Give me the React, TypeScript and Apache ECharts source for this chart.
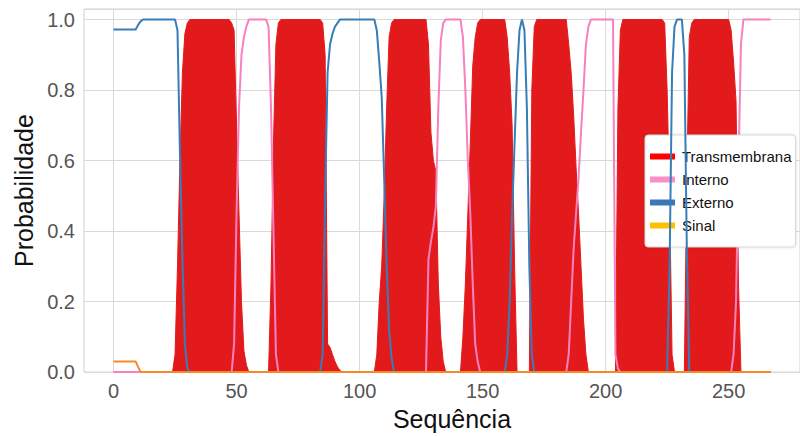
import React, { useEffect, useRef } from "react";
import * as echarts from "echarts";

const xTicks = [0, 50, 100, 150, 200, 250];
const yTicks = [0, 0.2, 0.4, 0.6, 0.8, 1.0];
const Y_MAX = 1.03;

const transmembrana: [number, number][] = [
  [0, 0], [24, 0], [25, 0.05], [26, 0.3], [27, 0.6], [28, 0.85], [29, 0.96], [30, 0.99], [31, 1], [47, 1],
  [48, 0.99], [49, 0.97], [50, 0.7], [51, 0.45], [52, 0.2], [53, 0.06], [54, 0.02], [55, 0],
  [63, 0], [64, 0.25], [65, 0.65], [66, 0.93], [67, 0.99], [68, 1], [84, 1], [85, 0.99], [86, 0.9], [87, 0.08],
  [88, 0.07], [89, 0.05], [90, 0.03], [91, 0.015], [92, 0.005], [93, 0],
  [106, 0], [107, 0.05], [108, 0.2], [109, 0.3], [110, 0.5], [111, 0.75], [112, 0.95], [113, 0.99], [114, 1], [127, 1],
  [128, 0.93], [129, 0.68], [130, 0.6], [131, 0.57], [132, 0.25], [133, 0.1], [134, 0.03], [135, 0],
  [141, 0], [142, 0.1], [143, 0.25], [144, 0.45], [145, 0.65], [146, 0.87], [147, 0.95], [148, 0.99], [149, 1], [159, 1],
  [160, 0.95], [161, 0.85], [162, 0.7], [163, 0.3], [164, 0],
  [169, 0], [170, 0.8], [171, 0.98], [172, 1], [184, 1], [185, 0.93], [186, 0.85], [187, 0.73], [188, 0.58],
  [189, 0.45], [190, 0.3], [191, 0.15], [192, 0.05], [193, 0],
  [204, 0], [205, 0.75], [206, 0.97], [207, 1], [223, 1], [224, 0.99], [225, 0.8], [226, 0.5], [227, 0.05], [228, 0],
  [232, 0], [233, 0.55], [234, 0.95], [235, 0.99], [236, 1], [250, 1], [251, 0.97], [252, 0.88], [253, 0.77],
  [254, 0.25], [255, 0], [267, 0],
];

const interno: [number, number][] = [
  [0, 0], [48, 0], [49, 0.08], [50, 0.45], [51, 0.75], [52, 0.9], [53, 0.95], [54, 0.98], [55, 1], [62, 1],
  [63, 0.98], [64, 0.75], [65, 0.4], [66, 0.05], [67, 0],
  [127, 0], [128, 0.32], [129, 0.37], [130, 0.41], [131, 0.47], [132, 0.75], [133, 0.94], [134, 0.99], [135, 1], [141, 1],
  [142, 0.95], [143, 0.8], [144, 0.6], [145, 0.45], [146, 0.25], [147, 0.08], [148, 0.03], [149, 0],
  [184, 0], [185, 0.05], [186, 0.2], [187, 0.35], [188, 0.45], [189, 0.55], [190, 0.68], [191, 0.8], [192, 0.93],
  [193, 0.98], [194, 1], [203, 1], [204, 0.05], [205, 0.01], [206, 0],
  [251, 0], [252, 0.05], [253, 0.2], [254, 0.58], [255, 0.93], [256, 1], [267, 1],
];

const externo: [number, number][] = [
  [0, 0.972], [9, 0.972], [10, 0.985], [11, 0.995], [12, 1], [25, 1], [26, 0.97], [27, 0.62], [28, 0.32],
  [29, 0.08], [30, 0.01], [31, 0],
  [84, 0], [85, 0.05], [86, 0.5], [87, 0.85], [88, 0.93], [89, 0.96], [90, 0.98], [91, 0.99], [92, 1],
  [106, 1], [107, 0.97], [108, 0.88], [109, 0.78], [110, 0.55], [111, 0.3], [112, 0.12], [113, 0.04], [114, 0],
  [159, 0], [160, 0.05], [161, 0.2], [162, 0.45], [163, 0.65], [164, 0.85], [165, 0.97], [166, 1], [167, 0.97],
  [168, 0.75], [169, 0.3], [170, 0.05], [171, 0],
  [225, 0], [226, 0.3], [227, 0.85], [228, 0.98], [229, 1], [231, 1], [232, 0.9], [233, 0.35], [234, 0], [267, 0],
];

const sinal: [number, number][] = [
  [0, 0.03], [9, 0.03], [10, 0.015], [11, 0], [267, 0],
];

const FONT = "'Liberation Sans', Arial, sans-serif";
const GRID_COLOR = "#d9d9d9";

export default function App() {
  const ref = useRef<HTMLDivElement>(null);
  useEffect(() => {
    if (!ref.current) return;
    const chart = echarts.init(ref.current, null, { renderer: "svg" });
    chart.setOption({
      animation: false,
      backgroundColor: "#fff",
      grid: {
        left: 84,
        right: 0,
        top: 9,
        bottom: 62,
        show: true,
        borderColor: "#d0d0d0",
        borderWidth: 1,
      },
      legend: {
        orient: "vertical",
        left: 645,
        top: 135,
        icon: "rect",
        itemWidth: 25,
        itemHeight: 6,
        itemGap: 8,
        padding: [14, 4, 14, 5],
        backgroundColor: "#fff",
        borderColor: "#d8d8d8",
        borderWidth: 1,
        borderRadius: 3,
        shadowBlur: 3,
        shadowColor: "rgba(0,0,0,0.15)",
        textStyle: { fontFamily: FONT, fontSize: 15, color: "#111", padding: [0, 0, 2, 2] },
        data: [
          { name: "Transmembrana", itemStyle: { color: "#ff0000" } },
          { name: "Interno", itemStyle: { color: "#f78fc8" } },
          { name: "Externo", itemStyle: { color: "#3a78b8" } },
          { name: "Sinal", itemStyle: { color: "#ffc000" } },
        ],
      },
      xAxis: {
        type: "value",
        min: -12,
        max: 279,
        axisLine: { show: false },
        axisTick: { show: false },
        splitLine: { show: false },
        axisLabel: {
          customValues: xTicks,
          color: "#555",
          fontSize: 20,
          fontFamily: FONT,
          margin: 9,
        },
        name: "Sequência",
        nameLocation: "middle",
        nameGap: 31,
        nameTextStyle: { fontFamily: FONT, fontSize: 25, color: "#111", padding: [0, 0, 0, 20] },
      },
      yAxis: {
        type: "value",
        min: 0,
        max: Y_MAX,
        interval: 0.2,
        axisLine: { show: false },
        axisTick: { show: false },
        splitLine: { lineStyle: { color: GRID_COLOR, width: 1 } },
        axisLabel: {
          color: "#555",
          fontSize: 20,
          fontFamily: FONT,
          margin: 9,
          formatter: (v: number) =>
            yTicks.some((t) => Math.abs(t - v) < 1e-6) ? v.toFixed(1) : "",
        },
        name: "Probabilidade",
        nameLocation: "middle",
        nameRotate: 90,
        nameGap: 42,
        nameTextStyle: { fontFamily: FONT, fontSize: 25, color: "#111" },
      },
      series: [
        {
          name: "_grid",
          type: "custom",
          silent: true,
          z: 1,
          data: xTicks.map((v) => [v]),
          encode: { x: 0 },
          renderItem: (_params: any, api: any) => {
            const x = api.value(0);
            const p0 = api.coord([x, 0]);
            const p1 = api.coord([x, Y_MAX]);
            return {
              type: "line",
              shape: { x1: p0[0], y1: p0[1], x2: p1[0], y2: p1[1] },
              style: { stroke: GRID_COLOR, lineWidth: 1 },
            };
          },
        },
        {
          name: "Transmembrana",
          type: "line",
          data: transmembrana,
          showSymbol: false,
          itemStyle: { color: "#ff0000" },
          lineStyle: { color: "#e31a1c", width: 1 },
          areaStyle: { color: "#e31a1c", opacity: 1 },
          z: 2,
        },
        {
          name: "Interno",
          type: "line",
          data: interno,
          showSymbol: false,
          itemStyle: { color: "#f781bf" },
          lineStyle: { color: "#f781bf", width: 2 },
          z: 3,
        },
        {
          name: "Externo",
          type: "line",
          data: externo,
          showSymbol: false,
          itemStyle: { color: "#377eb8" },
          lineStyle: { color: "#377eb8", width: 2 },
          z: 4,
        },
        {
          name: "Sinal",
          type: "line",
          data: sinal,
          showSymbol: false,
          itemStyle: { color: "#ff7f00" },
          lineStyle: { color: "#f5892a", width: 2 },
          z: 5,
        },
      ],
    });
    return () => chart.dispose();
  }, []);
  return (
    <div
      ref={ref}
      style={{ position: "fixed", left: 0, top: 0, width: 800, height: 436, background: "#fff" }}
    />
  );
}
